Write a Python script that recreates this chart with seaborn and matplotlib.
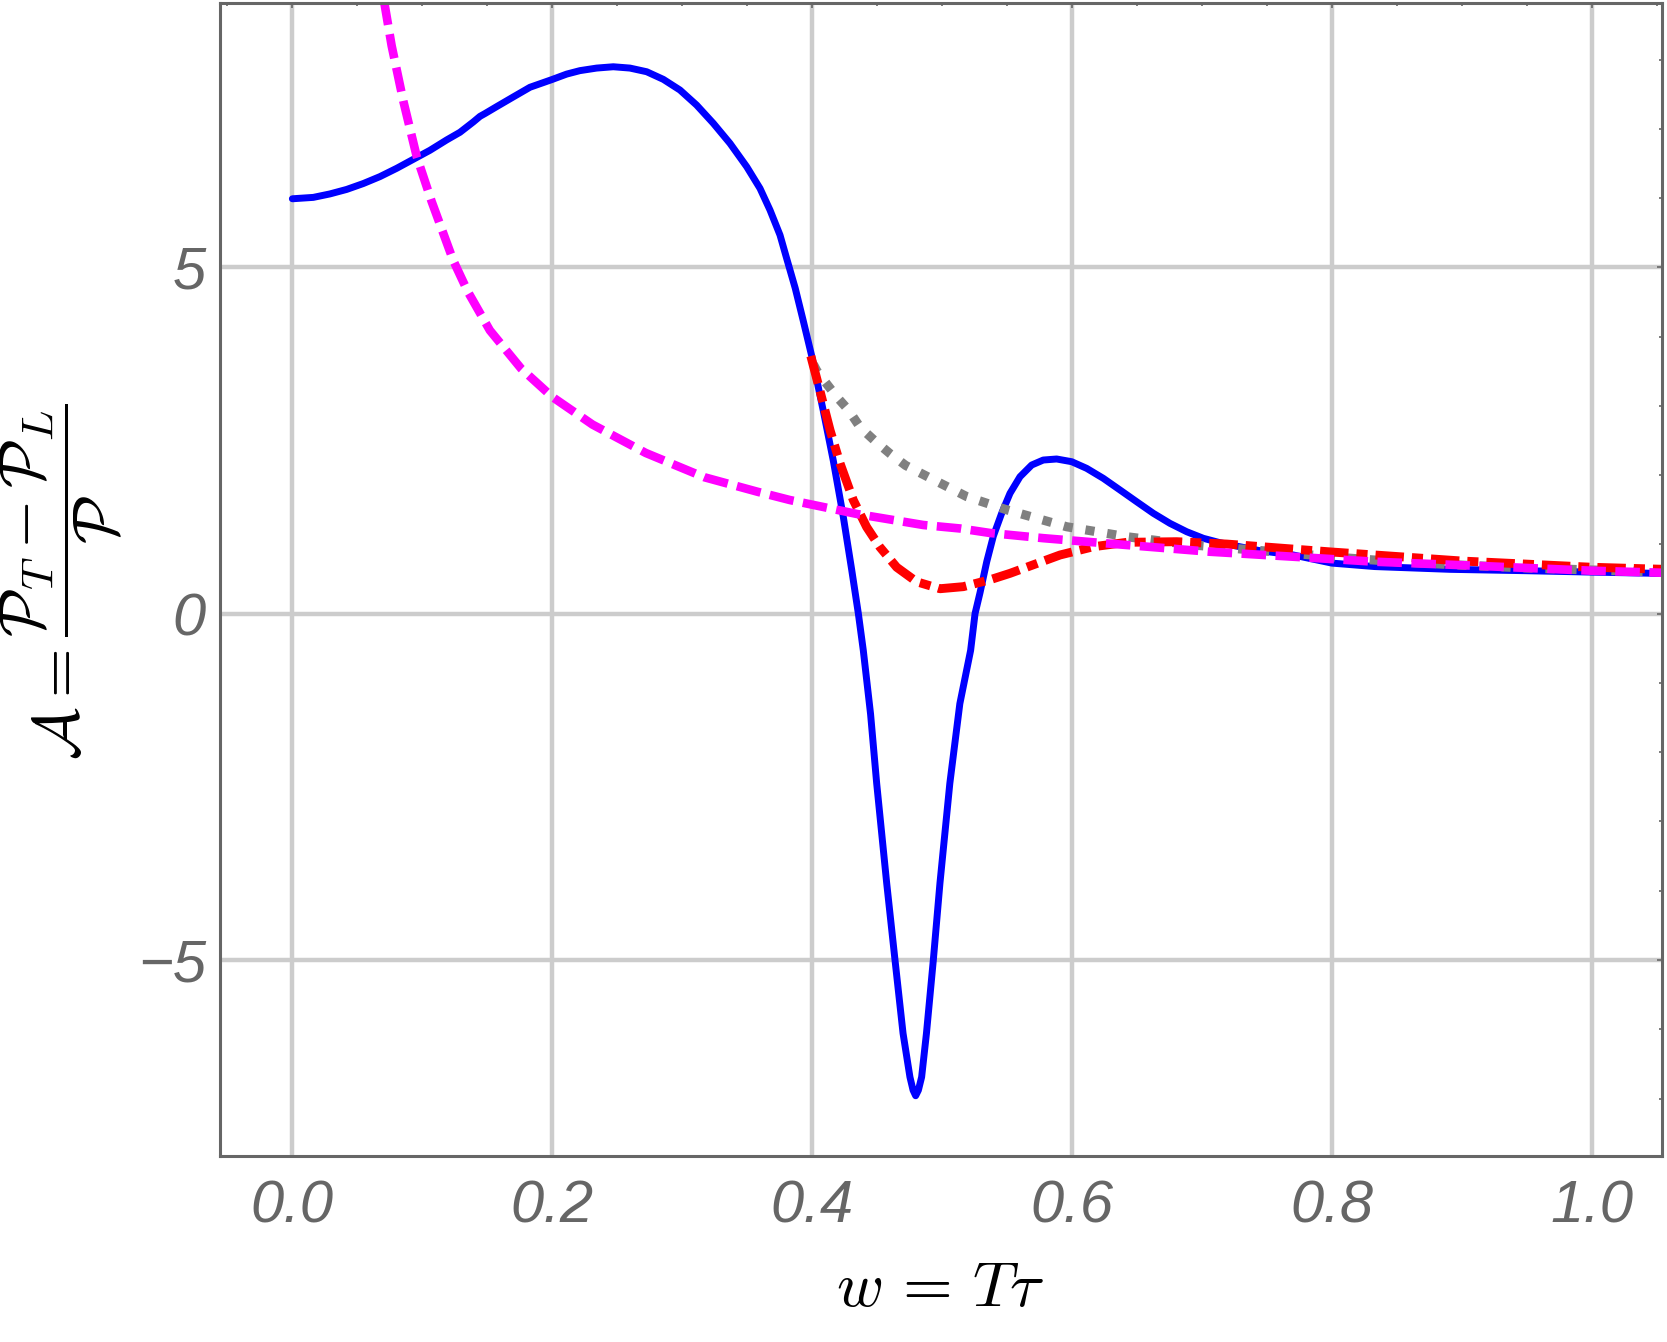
import seaborn as sns
import matplotlib.pyplot as plt
from matplotlib.ticker import MultipleLocator

# full numerical result (solid blue)
blue_w = [0.0, 0.0161, 0.0289, 0.0418, 0.0546, 0.0674, 0.0803, 0.0931, 0.1059, 0.1188,
          0.129, 0.1393, 0.1444, 0.1482, 0.1572, 0.170, 0.1829, 0.1996, 0.2111, 0.2213,
          0.2342, 0.247, 0.2598, 0.2727, 0.2855, 0.2983, 0.3111, 0.324, 0.3368, 0.3497,
          0.3599, 0.3676, 0.3753, 0.3804, 0.387, 0.3933, 0.3997, 0.4086, 0.4163, 0.424,
          0.4305, 0.4356, 0.4394, 0.445, 0.4497, 0.4574, 0.4638, 0.470, 0.4753, 0.4777,
          0.4797, 0.4818, 0.4843, 0.488, 0.4933, 0.4984, 0.506, 0.5137, 0.522, 0.5254,
          0.5292, 0.5344, 0.5395, 0.5459, 0.5523, 0.560, 0.569, 0.5779, 0.5882, 0.5998,
          0.6113, 0.6241, 0.637, 0.6498, 0.6626, 0.6754, 0.6883, 0.7011, 0.714, 0.7293,
          0.7447, 0.7703, 0.800, 0.833, 0.891, 0.950, 1.000, 1.056]
blue_a = [5.99, 6.01, 6.06, 6.125, 6.21, 6.31, 6.43, 6.56, 6.69, 6.84,
          6.95, 7.10, 7.18, 7.22, 7.32, 7.46, 7.60, 7.71, 7.79, 7.84,
          7.877, 7.896, 7.877, 7.824, 7.714, 7.56, 7.343, 7.079, 6.79, 6.452,
          6.14, 5.827, 5.466, 5.13, 4.70, 4.22, 3.72, 2.93, 2.21, 1.40,
          0.63, 0.0, -0.53, -1.45, -2.45, -3.89, -5.0, -6.06, -6.69, -6.88,
          -6.96, -6.88, -6.69, -6.06, -5.0, -3.89, -2.45, -1.30, -0.53, 0.0,
          0.30, 0.75, 1.12, 1.45, 1.737, 1.977, 2.146, 2.218, 2.233, 2.194,
          2.098, 1.954, 1.785, 1.616, 1.449, 1.304, 1.183, 1.088, 1.024, 0.966,
          0.909, 0.847, 0.73, 0.68, 0.64, 0.62, 0.60, 0.58]

# gray dotted
gray_w = [0.401, 0.4035, 0.407, 0.419, 0.428, 0.437, 0.448, 0.460, 0.472, 0.4907,
          0.519, 0.5497, 0.5959, 0.6421, 0.6934, 0.7703, 0.800, 0.850, 0.900, 0.950,
          1.000, 1.056]
gray_a = [3.60, 3.51, 3.42, 3.13, 2.94, 2.69, 2.50, 2.31, 2.14, 1.96,
          1.69, 1.50, 1.255, 1.111, 0.991, 0.871, 0.82, 0.75, 0.70, 0.66,
          0.63, 0.60]

# red dash-dotted
red_w = [0.399, 0.406, 0.4138, 0.4215, 0.4317, 0.442, 0.4522, 0.4651, 0.4805, 0.4984,
         0.5164, 0.537, 0.5523, 0.5908, 0.6164, 0.6421, 0.6806, 0.7191, 0.7627, 0.800,
         0.900, 1.000, 1.056]
red_a = [3.72, 3.22, 2.65, 2.17, 1.64, 1.25, 0.96, 0.67, 0.46, 0.36,
         0.39, 0.49, 0.582, 0.847, 0.966, 1.03, 1.039, 1.005, 0.943, 0.89,
         0.76, 0.67, 0.64]

# magenta dashed
mag_w = [0.0705, 0.0764, 0.0854, 0.0957, 0.1072, 0.1238, 0.135, 0.152, 0.176, 0.200,
         0.231, 0.272, 0.317, 0.358, 0.383, 0.4343, 0.4856, 0.5138, 0.5369, 0.5779,
         0.6421, 0.7062, 0.7703, 0.833, 0.900, 1.000, 1.056]
mag_a = [8.85, 8.20, 7.40, 6.60, 5.95, 5.10, 4.65, 4.09, 3.54, 3.13,
         2.73, 2.32, 1.97, 1.76, 1.64, 1.44, 1.28, 1.23, 1.165, 1.09,
         0.991, 0.894, 0.822, 0.75, 0.70, 0.62, 0.59]

x_ticks = [0.0, 0.2, 0.4, 0.6, 0.8, 1.0]
y_ticks = [-5, 0, 5]

sns.set_theme(style="white")
plt.rcParams["mathtext.fontset"] = "cm"
plt.rcParams["font.family"] = ["Liberation Sans", "DejaVu Sans"]

fig = plt.figure(figsize=(16.67, 13.42), dpi=100)
ax = fig.add_axes([0.13197, 0.1386, 0.86503, 0.8595])

# solid, dotted, dash-dot, dashed (drawn in that order)
styles = [
    (blue_w, blue_a, "#0000ff", 5.0, "-"),
    (gray_w, gray_a, "#808080", 6.6, (0, (1.0, 1.4))),
    (red_w, red_a, "#ff0000", 6.4, (0, (3.2, 0.9, 1.25, 0.9))),
    (mag_w, mag_a, "#ff00ff", 6.2, (0, (2.85, 1.1))),
]
for xs, ys, col, lw, ls in styles:
    sns.lineplot(x=xs, y=ys, ax=ax, color=col, estimator=None, sort=False)
    line = ax.lines[-1]
    line.set_linewidth(lw)
    line.set_linestyle(ls)
    line.set_dash_capstyle("butt")

ax.set_xlim(-0.0557, 1.0541)
ax.set_ylim(-7.83, 8.823)

ax.set_xticks(x_ticks)
ax.set_xticklabels([f"{t:.1f}" for t in x_ticks])
ax.set_yticks(y_ticks)
ax.set_yticklabels(["\u22125", "0", "5"])
ax.xaxis.set_minor_locator(MultipleLocator(0.05))
ax.yaxis.set_minor_locator(MultipleLocator(1))

ax.grid(True, which="major", color="#cccccc", linewidth=3.2)
ax.set_axisbelow(True)

for side in ["top", "right", "left", "bottom"]:
    ax.spines[side].set_color("#666666")
    ax.spines[side].set_linewidth(2.2)

ax.tick_params(which="both", direction="in", top=True, right=True,
               color="#666666", width=1.2)
ax.tick_params(which="major", length=3.5)
ax.tick_params(which="minor", length=2.5)
ax.tick_params(axis="x", which="major", pad=17, labelsize=43, labelcolor="#666666")
ax.tick_params(axis="y", which="major", pad=10, labelsize=43, labelcolor="#666666")
for lab in ax.get_xticklabels() + ax.get_yticklabels():
    lab.set_fontstyle("italic")

ax.set_xlabel(r"$w \,=\, T\tau$", fontsize=46, color="black", va="center")
ax.xaxis.set_label_coords(0.4997, -0.1156)
ax.set_ylabel(r"$\mathcal{A} = \dfrac{\mathcal{P}_T - \mathcal{P}_L}{\mathcal{P}}$",
              fontsize=46, color="black", va="center")
ax.yaxis.set_label_coords(-0.1093, 0.498)

fig.savefig("out.png", dpi=100, facecolor="white")
